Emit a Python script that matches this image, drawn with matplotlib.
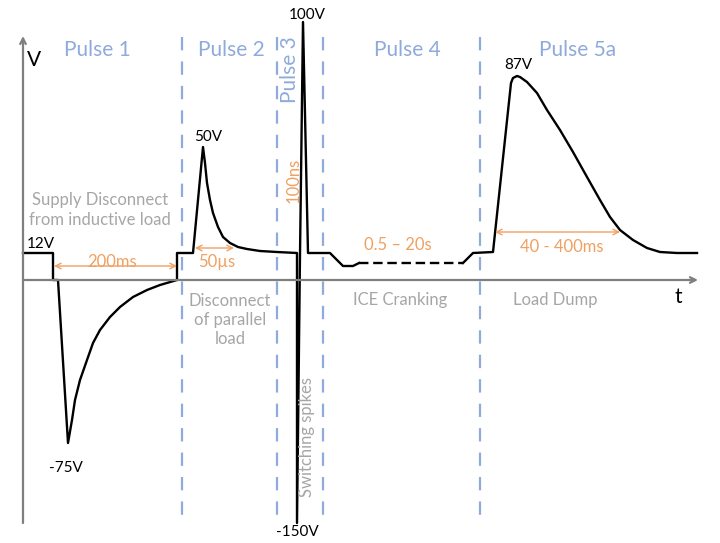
import matplotlib.pyplot as plt

plt.rcParams['font.family'] = ['Lato', 'DejaVu Sans']

# schematic waveform: x = time position, y = drawn level above the t axis
wave_x = [23, 53, 53, 58, 68, 72, 75, 80, 87, 93, 100, 110, 120, 133,
          147, 160, 177,
          177, 193, 203, 205, 207, 210, 213, 218, 223, 230, 238, 247,
          260, 277, 297,
          297, 300, 303, 308, 330, 343, 353, 359]
wave_y = [27, 27, 0, 0, -163, -140, -120, -100, -80, -63, -50, -37, -27,
          -17, -10, -5, 0,
          27, 27, 133, 117, 97, 80, 67, 53, 43, 37, 33, 31,
          29, 28, 27,
          -243, 25, 258, 27, 27, 14, 14, 17]
dash_x = [359, 463]
dash_y = [17, 17]
dump_x = [463, 473, 493, 511, 513, 517, 520, 527, 537, 547, 560, 573,
          587, 600, 610, 620, 633, 647, 660, 677, 697]
dump_y = [17, 27, 28, 197, 202, 204, 203, 198, 187, 170, 150, 128,
          103, 80, 63, 50, 40, 32, 28, 27, 27]

# pulse boundaries
bounds = [182, 277, 323, 480]
pulse_names = ['Pulse 1', 'Pulse 2', 'Pulse 4', 'Pulse 5a']
pulse_x = [97, 231, 407, 578]

# voltage labels
volt_labels = ['12V', '50V', '100V', '-150V', '-75V', '87V']
volt_x = [41, 208, 307, 297, 66, 518]
volt_y = [36, 143, 265, -252, -188, 215]

# event descriptions
desc_labels = ['Supply Disconnect\nfrom inductive load',
               'Disconnect\nof parallel\nload', 'ICE Cranking', 'Load Dump']
desc_x = [100, 230, 400, 555]
desc_y = [70, -40, -20, -20]

# durations
dur_labels = ['200ms', '50µs', '0.5 – 20s', '40 - 400ms']
dur_x = [112, 217, 398, 562]
dur_y = [18, 18, 35, 33]
span_start = [54, 195, 495]
span_end = [177, 234, 620]
span_y = [14, 32, 48]

blue = '#8FAADC'
gray = '#A6A6A6'
orange = '#F0A060'
axis_gray = '#7F7F7F'

fig = plt.figure(figsize=(7.2, 5.43), dpi=100)
ax = fig.add_axes([0, 0, 1, 1])
ax.set_xlim(0, 720)
ax.set_ylim(-263, 280)
ax.axis('off')

# axes with arrows
ax.annotate('', xy=(23, 244), xytext=(23, -243),
            arrowprops=dict(arrowstyle='->', color=axis_gray, lw=1.6,
                            shrinkA=0, shrinkB=0))
ax.annotate('', xy=(698, 0), xytext=(23, 0),
            arrowprops=dict(arrowstyle='->', color=axis_gray, lw=1.6,
                            shrinkA=0, shrinkB=0))
ax.text(34, 220, 'V', fontsize=15, ha='center', va='center')
ax.text(678, -17, 't', fontsize=15, ha='center', va='center')

for b in bounds:
    ax.plot([b, b], [243, -238], color=blue, lw=1.6, dashes=(6, 5))

ax.plot(wave_x, wave_y, color='black', lw=1.7, solid_joinstyle='round')
ax.plot(dash_x, dash_y, color='black', lw=1.7, dashes=(4, 2))
ax.plot(dump_x, dump_y, color='black', lw=1.7, solid_joinstyle='round')

for name, x in zip(pulse_names, pulse_x):
    ax.text(x, 230, name, color=blue, fontsize=15, ha='center', va='center')
ax.text(290, 210, 'Pulse 3', color=blue, fontsize=15, ha='center',
        va='center', rotation=90)

for lab, x, y in zip(volt_labels, volt_x, volt_y):
    ax.text(x, y, lab, fontsize=11, ha='center', va='center')

for lab, x, y in zip(desc_labels, desc_x, desc_y):
    ax.text(x, y, lab, color=gray, fontsize=12, ha='center', va='center',
            linespacing=1.25)
ax.text(307, -157, 'Switching spikes', color=gray, fontsize=12,
        ha='center', va='center', rotation=90)

for lab, x, y in zip(dur_labels, dur_x, dur_y):
    ax.text(x, y, lab, color=orange, fontsize=12, ha='center', va='center')
ax.text(294, 100, '100ns', color=orange, fontsize=12, ha='center',
        va='center', rotation=90)
for x0, x1, y in zip(span_start, span_end, span_y):
    ax.annotate('', xy=(x1, y), xytext=(x0, y),
                arrowprops=dict(arrowstyle='<->', color=orange, lw=1,
                                shrinkA=0, shrinkB=0))

fig.savefig('out.png', dpi=100)
